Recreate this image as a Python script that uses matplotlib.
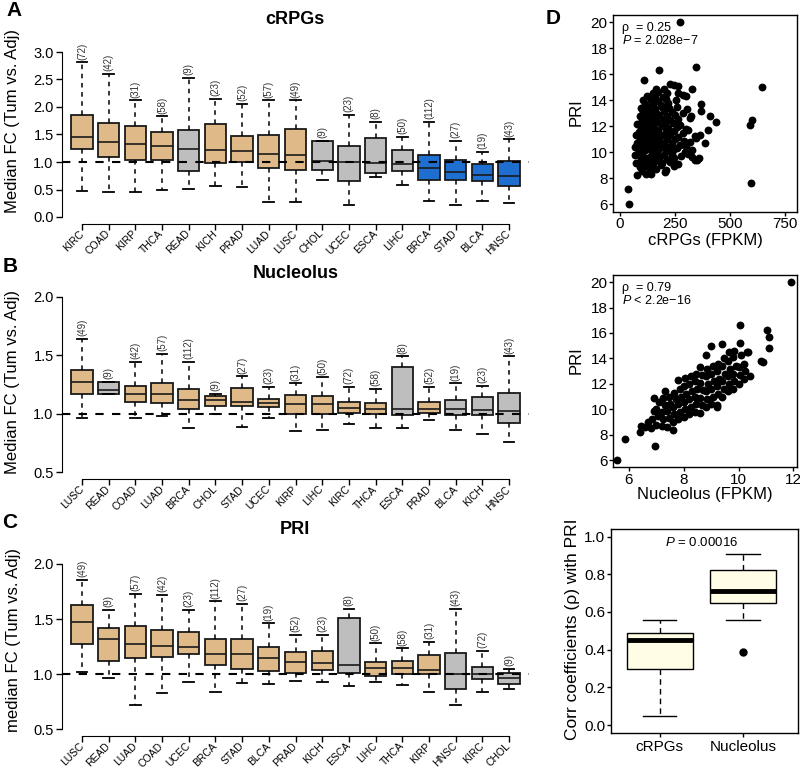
import matplotlib.pyplot as plt

plt.rcParams['font.family'] = ['Liberation Sans', 'DejaVu Sans']
plt.rcParams['mathtext.fontset'] = 'custom'
plt.rcParams['mathtext.it'] = 'Liberation Sans:italic'
plt.rcParams['mathtext.rm'] = 'Liberation Sans'

# ---- panel A : cRPGs
names_a = ['KIRC', 'COAD', 'KIRP', 'THCA', 'READ', 'KICH', 'PRAD', 'LUAD', 'LUSC',
           'CHOL', 'UCEC', 'ESCA', 'LIHC', 'BRCA', 'STAD', 'BLCA', 'HNSC']
n_a = [72, 42, 31, 58, 9, 23, 52, 57, 49, 9, 23, 8, 50, 112, 27, 19, 43]
lo_a = [0.48, 0.45, 0.45, 0.49, 0.51, 0.56, 0.54, 0.27, 0.28, 0.68, 0.22, 0.72, 0.59, 0.30, 0.22, 0.30, 0.25]
q1_a = [1.23, 1.09, 1.03, 1.03, 0.84, 0.98, 1.00, 0.89, 0.86, 0.86, 0.65, 0.80, 0.83, 0.68, 0.68, 0.65, 0.56]
med_a = [1.46, 1.37, 1.32, 1.30, 1.24, 1.21, 1.20, 1.15, 1.13, 1.02, 1.00, 0.98, 0.97, 0.89, 0.81, 0.77, 0.75]
q3_a = [1.86, 1.70, 1.65, 1.55, 1.59, 1.69, 1.47, 1.49, 1.60, 1.39, 1.30, 1.44, 1.22, 1.12, 1.03, 0.97, 1.01]
hi_a = [2.81, 2.60, 2.12, 1.83, 2.53, 2.15, 2.05, 2.12, 2.12, 1.39, 1.85, 1.73, 1.46, 1.73, 1.39, 1.19, 1.41]
grp_a = ['up', 'up', 'up', 'up', 'ns', 'up', 'up', 'up', 'up',
         'ns', 'ns', 'ns', 'ns', 'down', 'down', 'down', 'down']

# ---- panel B : Nucleolus
names_b = ['LUSC', 'READ', 'COAD', 'LUAD', 'BRCA', 'CHOL', 'STAD', 'UCEC', 'KIRP',
           'LIHC', 'KIRC', 'THCA', 'ESCA', 'PRAD', 'BLCA', 'KICH', 'HNSC']
n_b = [49, 9, 42, 57, 112, 9, 27, 23, 31, 50, 72, 58, 8, 52, 19, 23, 43]
lo_b = [0.96, 1.17, 0.96, 0.98, 0.88, 1.00, 0.89, 0.96, 0.85, 0.86, 0.91, 0.88, 0.88, 0.95, 0.86, 0.83, 0.76]
q1_b = [1.17, 1.17, 1.10, 1.09, 1.04, 1.07, 1.07, 1.06, 1.00, 1.00, 1.01, 1.00, 0.99, 1.01, 0.99, 0.99, 0.92]
med_b = [1.27, 1.20, 1.17, 1.17, 1.12, 1.12, 1.10, 1.09, 1.08, 1.08, 1.05, 1.04, 1.04, 1.04, 1.04, 1.03, 1.02]
q3_b = [1.37, 1.27, 1.24, 1.26, 1.21, 1.15, 1.22, 1.13, 1.16, 1.15, 1.10, 1.09, 1.40, 1.10, 1.12, 1.14, 1.18]
hi_b = [1.64, 1.27, 1.44, 1.51, 1.44, 1.17, 1.32, 1.23, 1.26, 1.31, 1.23, 1.21, 1.49, 1.23, 1.26, 1.24, 1.49]
grp_b = ['up', 'ns', 'up', 'up', 'up', 'up', 'up', 'up', 'up',
         'up', 'up', 'up', 'ns', 'up', 'ns', 'ns', 'ns']

# ---- panel C : PRI
names_c = ['LUSC', 'READ', 'LUAD', 'COAD', 'UCEC', 'BRCA', 'STAD', 'BLCA', 'PRAD',
           'KICH', 'ESCA', 'LIHC', 'THCA', 'KIRP', 'HNSC', 'KIRC', 'CHOL']
n_c = [49, 9, 57, 42, 23, 112, 27, 19, 52, 23, 8, 50, 58, 31, 43, 72, 9]
lo_c = [1.02, 0.97, 0.72, 0.83, 0.93, 0.84, 0.92, 0.91, 0.94, 0.93, 0.89, 0.93, 0.90, 0.84, 0.72, 0.84, 0.87]
q1_c = [1.27, 1.12, 1.145, 1.16, 1.18, 1.085, 1.045, 1.03, 1.01, 1.04, 1.01, 0.98, 1.00, 1.00, 0.87, 0.955, 0.91]
med_c = [1.47, 1.32, 1.275, 1.26, 1.245, 1.18, 1.18, 1.15, 1.115, 1.105, 1.08, 1.055, 1.06, 1.04, 1.00, 1.00, 0.965]
q3_c = [1.63, 1.42, 1.435, 1.40, 1.38, 1.32, 1.32, 1.25, 1.20, 1.21, 1.51, 1.11, 1.12, 1.17, 1.19, 1.065, 1.015]
hi_c = [1.855, 1.58, 1.73, 1.72, 1.58, 1.66, 1.64, 1.46, 1.36, 1.36, 1.59, 1.28, 1.235, 1.29, 1.59, 1.21, 1.05]
grp_c = ['up', 'up', 'up', 'up', 'up', 'up', 'up', 'up', 'up',
         'up', 'ns', 'up', 'up', 'up', 'ns', 'ns', 'ns']

# ---- panel D : scatter cRPGs vs PRI
crpg_pts = [
    (80, 8.25), (140, 8.35), (205, 8.5), (120, 8.3),
    (100, 8.6), (135, 8.55), (165, 8.7), (210, 8.65), (245, 8.95),
    (90, 8.9), (120, 8.95), (150, 8.85), (185, 9.0), (250, 9.1),
    (75, 9.2), (105, 9.25), (130, 9.15), (160, 9.3), (190, 9.2), (230, 9.25), (265, 9.1),
    (95, 9.5), (125, 9.55), (155, 9.45), (180, 9.6), (215, 9.5), (245, 9.55), (340, 9.45), (360, 9.6),
    (70, 9.8), (100, 9.85), (140, 9.75), (170, 9.9), (200, 9.8), (235, 9.85), (280, 9.7), (310, 9.9),
    (85, 10.1), (115, 10.15), (145, 10.05), (175, 10.2), (210, 10.1), (240, 10.15), (295, 10.0), (330, 10.2),
    (70, 10.4), (100, 10.45), (130, 10.35), (160, 10.5), (190, 10.4), (225, 10.45), (260, 10.3), (300, 10.5),
    (80, 10.7), (110, 10.75), (140, 10.65), (170, 10.8), (200, 10.7), (235, 10.75), (275, 10.6), (320, 10.8),
    (385, 10.75),
    (90, 11.0), (120, 11.05), (150, 10.95), (180, 11.1), (215, 11.0), (250, 11.05), (290, 10.9), (345, 11.1),
    (75, 11.3), (105, 11.35), (135, 11.25), (165, 11.4), (195, 11.3), (230, 11.35), (265, 11.2), (340, 11.25),
    (365, 11.3),
    (85, 11.6), (115, 11.65), (145, 11.55), (175, 11.7), (210, 11.6), (245, 11.65), (285, 11.5), (310, 11.7),
    (400, 11.7),
    (95, 11.9), (125, 11.95), (155, 11.85), (190, 12.0), (220, 11.9), (260, 11.95), (300, 11.8),
    (80, 12.2), (110, 12.25), (140, 12.15), (170, 12.3), (205, 12.2), (240, 12.25), (275, 12.1), (435, 12.3),
    (100, 12.5), (130, 12.55), (160, 12.45), (195, 12.6), (230, 12.5), (265, 12.55), (320, 12.65),
    (90, 12.8), (120, 12.85), (150, 12.75), (180, 12.9), (215, 12.8), (250, 12.85), (325, 12.8), (410, 12.8),
    (105, 13.1), (135, 13.15), (165, 13.05), (200, 13.2), (235, 13.1), (285, 13.0), (370, 13.2),
    (95, 13.4), (125, 13.45), (160, 13.35), (190, 13.5), (225, 13.4), (260, 13.45), (305, 13.3),
    (115, 13.7), (150, 13.75), (185, 13.65), (220, 13.8), (370, 13.7),
    (105, 14.0), (140, 14.05), (175, 13.95), (210, 14.1), (255, 14.0),
    (125, 14.3), (160, 14.35), (195, 14.25), (285, 14.4), (300, 14.3),
    (150, 14.6), (175, 14.65), (215, 14.55), (265, 14.6),
    (165, 14.9), (200, 14.85), (330, 14.9),
    (230, 15.25), (245, 15.2), (265, 15.1),
    (110, 15.6), (180, 16.3), (345, 16.6), (275, 20.0), (645, 15.05),
    (600, 12.5), (590, 12.1), (595, 7.65), (35, 7.15), (42, 6.0),
    (350, 9.4), (330, 9.65),
]

# ---- panel D : scatter Nucleolus vs PRI
nuc_pts = [
    (5.55, 6.0), (5.85, 7.65), (6.95, 7.1),
    (6.4, 8.2), (6.45, 8.7), (6.6, 8.6), (6.7, 9.0),
    (6.8, 8.5), (6.85, 9.2), (6.9, 9.9),
    (7.0, 8.8), (7.05, 9.45), (7.0, 10.05), (7.1, 10.6),
    (7.2, 8.7), (7.25, 9.2), (7.2, 9.8), (7.3, 10.3), (7.25, 10.9),
    (7.4, 8.6), (7.45, 9.3), (7.4, 9.9), (7.5, 10.4), (7.45, 11.0),
    (7.6, 8.35), (7.6, 9.0), (7.65, 9.6), (7.6, 10.2), (7.7, 10.8), (7.65, 11.3),
    (7.8, 9.2), (7.85, 9.8), (7.8, 10.4), (7.9, 11.0), (7.85, 11.6), (7.8, 12.3),
    (8.0, 9.4), (8.05, 10.0), (8.0, 10.6), (8.1, 11.2), (8.0, 11.8), (8.05, 12.5),
    (8.2, 9.6), (8.25, 10.2), (8.2, 10.8), (8.3, 11.4), (8.2, 12.0), (8.25, 12.6),
    (8.4, 9.8), (8.45, 10.4), (8.4, 11.0), (8.5, 11.6), (8.4, 12.2), (8.45, 12.8),
    (8.6, 9.7), (8.65, 10.3), (8.6, 10.9), (8.7, 11.5), (8.6, 12.1), (8.65, 12.7), (8.6, 13.3),
    (8.8, 10.2), (8.85, 10.8), (8.8, 11.4), (8.9, 12.0), (8.8, 12.6), (8.85, 13.2), (8.8, 14.3),
    (9.0, 10.4), (9.05, 11.0), (9.0, 11.6), (9.1, 12.2), (9.0, 12.8), (9.05, 13.4), (9.0, 15.0),
    (9.2, 10.3), (9.25, 11.2), (9.2, 11.8), (9.3, 12.4), (9.2, 13.0), (9.25, 13.6),
    (9.4, 11.0), (9.45, 11.6), (9.4, 12.2), (9.5, 12.8), (9.4, 13.4), (9.45, 14.0), (9.4, 15.1),
    (9.6, 11.4), (9.65, 12.0), (9.6, 12.6), (9.7, 13.2), (9.6, 13.8), (9.65, 14.5),
    (9.8, 11.6), (9.85, 12.2), (9.8, 12.8), (9.9, 13.4), (9.8, 14.1), (9.85, 14.6),
    (10.0, 12.0), (10.05, 12.7), (10.0, 13.3), (10.1, 14.3), (10.05, 15.2),
    (10.2, 12.4), (10.25, 13.0), (10.2, 13.6), (10.3, 14.5),
    (10.4, 12.6), (10.35, 14.5),
    (10.8, 13.8), (10.9, 13.7), (11.1, 14.8), (11.1, 15.65), (11.05, 16.25),
    (10.05, 16.6), (11.9, 20.0), (6.9, 10.9), (7.3, 11.4), (9.2, 10.2),
]

# ---- panel D : correlation boxplot
corr_names = ['cRPGs', 'Nucleolus']
corr_lo = [0.05, 0.56]
corr_q1 = [0.30, 0.65]
corr_med = [0.45, 0.71]
corr_q3 = [0.49, 0.82]
corr_hi = [0.56, 0.91]
corr_out = [[], [0.39]]

W, H = 800, 768
fig = plt.figure(figsize=(8, 7.68), dpi=100)


def rect(l, t, r, b):
    return [l / W, 1 - b / H, (r - l) / W, (b - t) / H]


def ftext(x, y, s, **kw):
    fig.text(x / W, 1 - y / H, s, ha='center', va='center', **kw)


cols = {'up': '#DFB988', 'ns': '#BEBEBE', 'down': '#1F6FD0'}


def fc_panel(ax, names, counts, lo, q1, med, q3, hi, groups, ymin, ymax, step):
    pos = list(range(1, len(names) + 1))
    stats = [dict(whislo=a, q1=b, med=c, q3=d, whishi=e, fliers=[])
             for a, b, c, d, e in zip(lo, q1, med, q3, hi)]
    bp = ax.bxp(stats, positions=pos, widths=0.8, capwidths=0.4, patch_artist=True,
                showfliers=False,
                boxprops=dict(edgecolor='#1a1a1a', linewidth=1.3),
                medianprops=dict(color='#1a1a1a', linewidth=1.2),
                whiskerprops=dict(color='k', linewidth=1.1, linestyle=(0, (3, 3))),
                capprops=dict(color='k', linewidth=1.3))
    for patch, g in zip(bp['boxes'], groups):
        patch.set_facecolor(cols[g])
    ax.axhline(1, color='k', lw=1.5, ls=(0, (4, 4)), zorder=5)
    for p, n, h in zip(pos, counts, hi):
        ax.annotate(f'({n})', (p, h), xytext=(0, 2), textcoords='offset points',
                    rotation=90, ha='center', va='bottom', fontsize=7, color='#333333')
    pad = 0.04 * (ymax - ymin)
    ax.set_xlim(0.25, 17.75)
    ax.set_ylim(ymin - pad, ymax + pad)
    ticks = []
    v = ymin
    while v <= ymax + 1e-9:
        ticks.append(v)
        v += step
    ax.set_yticks(ticks)
    ax.set_yticklabels([f'{t:.1f}' for t in ticks])
    ax.set_xticks(pos)
    ax.set_xticklabels(names, rotation=45, ha='right', va='center',
                       rotation_mode='anchor', fontsize=7.5)
    for s in ['top', 'right']:
        ax.spines[s].set_visible(False)
    ax.spines['left'].set_bounds(ymin, ymax)
    ax.spines['bottom'].set_bounds(1, len(names))
    ax.tick_params(direction='out', length=4, width=1, pad=2)
    ax.tick_params(axis='y', labelsize=10.5)


axA = fig.add_axes(rect(62, 45.4, 529, 223.6))
fc_panel(axA, names_a, n_a, lo_a, q1_a, med_a, q3_a, hi_a, grp_a, 0.0, 3.0, 0.5)
axB = fig.add_axes(rect(62, 289.7, 529, 479.3))
fc_panel(axB, names_b, n_b, lo_b, q1_b, med_b, q3_b, hi_b, grp_b, 0.5, 2.0, 0.5)
axC = fig.add_axes(rect(62, 557.3, 529, 736))
fc_panel(axC, names_c, n_c, lo_c, q1_c, med_c, q3_c, hi_c, grp_c, 0.5, 2.0, 0.5)

ftext(13, 121, 'Median FC (Tum vs. Adj)', rotation=90, fontsize=12)
ftext(13, 382, 'Median FC (Tum vs. Adj)', rotation=90, fontsize=12)
ftext(14, 640, 'median FC (Tum vs. Adj)', rotation=90, fontsize=12)
ftext(295, 19, 'cRPGs', fontsize=13, fontweight='bold')
ftext(296, 273, 'Nucleolus', fontsize=13, fontweight='bold')
ftext(295, 529, 'PRI', fontsize=13, fontweight='bold')
ftext(14, 11, 'A', fontsize=15, fontweight='bold')
ftext(10, 266, 'B', fontsize=15, fontweight='bold')
ftext(10, 523, 'C', fontsize=15, fontweight='bold')
ftext(553, 18, 'D', fontsize=15, fontweight='bold')


def d_axes(ax):
    ax.tick_params(direction='out', length=3, width=1, labelsize=11, pad=1)
    for s in ax.spines.values():
        s.set_linewidth(1.0)


# scatter 1
ax1 = fig.add_axes(rect(613.3, 15, 796.7, 211.7))
x1 = [p[0] for p in crpg_pts]
y1 = [p[1] for p in crpg_pts]
ax1.scatter(x1, y1, s=32, c='k', linewidths=0)
ax1.set_xlim(-30, 804)
ax1.set_ylim(5.44, 20.56)
ax1.set_xticks([0, 250, 500, 750])
ax1.set_yticks(range(6, 21, 2))
d_axes(ax1)
ax1.text(0.05, 0.935, '\u03c1  = 0.25', transform=ax1.transAxes, fontsize=9, va='center')
ax1.text(0.05, 0.87, '$\\it{P}$ = 2.028e\u22127', transform=ax1.transAxes, fontsize=9, va='center')
ftext(576, 112, 'PRI', rotation=90, fontsize=12)
ftext(705, 241, 'cRPGs (FPKM)', fontsize=12)

# scatter 2
ax2 = fig.add_axes(rect(613.3, 275, 796.7, 467.3))
x2 = [p[0] for p in nuc_pts]
y2 = [p[1] for p in nuc_pts]
ax2.scatter(x2, y2, s=32, c='k', linewidths=0)
ax2.set_xlim(5.43, 12.12)
ax2.set_ylim(5.44, 20.56)
ax2.set_xticks([6, 8, 10, 12])
ax2.set_yticks(range(6, 21, 2))
d_axes(ax2)
ax2.text(0.05, 0.93, '\u03c1  = 0.79', transform=ax2.transAxes, fontsize=9, va='center')
ax2.text(0.05, 0.865, '$\\it{P}$ < 2.2e\u221216', transform=ax2.transAxes, fontsize=9, va='center')
ftext(576, 360, 'PRI', rotation=90, fontsize=12)
ftext(705, 494, 'Nucleolus (FPKM)', fontsize=12)

# correlation boxplot
ax3 = fig.add_axes(rect(610.7, 529, 798, 732.7))
stats = [dict(whislo=a, q1=b, med=c, q3=d, whishi=e, fliers=f)
         for a, b, c, d, e, f in zip(corr_lo, corr_q1, corr_med, corr_q3, corr_hi, corr_out)]
bp = ax3.bxp(stats, positions=[1, 2], widths=0.8, capwidths=0.4, patch_artist=True,
             boxprops=dict(facecolor='#FFFDE6', edgecolor='k', linewidth=1.0),
             medianprops=dict(color='k', linewidth=3.5),
             whiskerprops=dict(color='k', linewidth=1.0, linestyle=(0, (4, 3))),
             capprops=dict(color='k', linewidth=1.0),
             flierprops=dict(marker='o', markerfacecolor='k', markeredgecolor='k', markersize=5))
ax3.set_xlim(0.41, 2.66)
ax3.set_ylim(-0.04, 1.04)
ax3.set_xticks([1, 2])
ax3.set_xticklabels(corr_names)
ax3.set_yticks([0, 0.2, 0.4, 0.6, 0.8, 1.0])
ax3.set_yticklabels(['0.0', '0.2', '0.4', '0.6', '0.8', '1.0'])
d_axes(ax3)
ax3.tick_params(axis='x', pad=2)
ax3.text(1.5, 0.97, '$\\it{P}$ = 0.00016', fontsize=9.5, ha='center', va='center')
ftext(572, 629, 'Corr coefficients (\u03c1) with PRI', rotation=90, fontsize=12.5)

fig.savefig('out.png', dpi=100)
